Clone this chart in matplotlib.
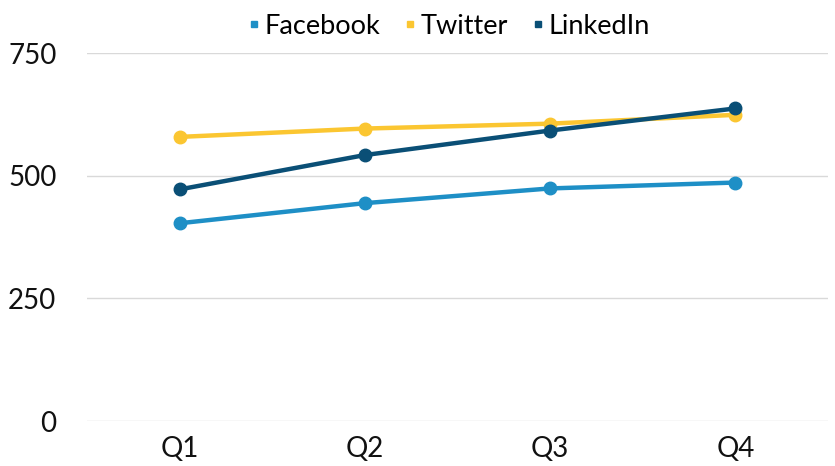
import matplotlib.pyplot as plt
from matplotlib.lines import Line2D

plt.rcParams['font.family'] = ['Lato', 'DejaVu Sans']

quarters = ['Q1', 'Q2', 'Q3', 'Q4']
facebook = [403, 444, 474, 486]
twitter = [579, 596, 606, 624]
linkedin = [472, 542, 592, 637]

series = [('Facebook', facebook, '#1e8fc6'),
          ('Twitter', twitter, '#fbc631'),
          ('LinkedIn', linkedin, '#0a4f76')]

fig = plt.figure(figsize=(8.35, 4.66), dpi=100)
ax = fig.add_axes([87 / 835, 1 - 421 / 466, (828 - 87) / 835, (421 - 53) / 466])

x = list(range(len(quarters)))
handles = []
for name, vals, col in series:
    ax.plot(x, vals, color=col, linewidth=3.2, marker='o', markersize=9,
            solid_capstyle='round', zorder=3)
    handles.append(Line2D([], [], linestyle='none', marker='s', markersize=4,
                          color=col, label=name))

ax.set_xlim(-0.5, 3.5)
ax.set_ylim(0, 750)
ax.set_yticks([0, 250, 500, 750])
ax.set_xticks(x)
ax.set_xticklabels(quarters)
ax.grid(axis='y', color='#d9d9d9', linewidth=1)
ax.set_axisbelow(True)
for s in ax.spines.values():
    s.set_visible(False)
ax.tick_params(length=0, labelsize=20, colors='#111111')
ax.tick_params(axis='y', pad=22)
ax.tick_params(axis='x', pad=11)

fig.legend(handles=handles, loc='center', bbox_to_anchor=(448 / 835, 1 - 26 / 466),
           ncol=3, frameon=False, fontsize=19.5, handletextpad=0.1, columnspacing=0.8,
           handlelength=0.6)

fig.savefig('out.png', dpi=100)
